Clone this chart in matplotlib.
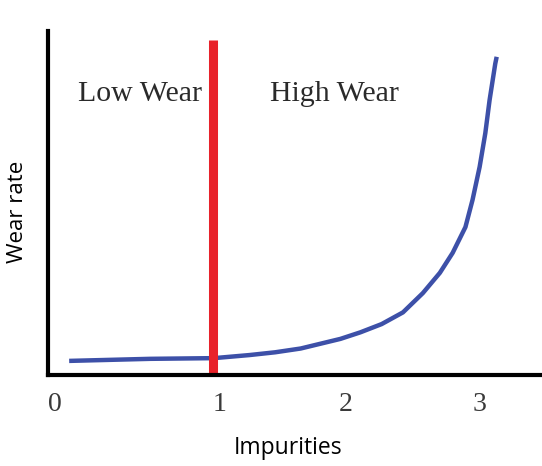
import numpy as np
import matplotlib.pyplot as plt


# curva de desgaste
imp = [0.10, 0.67, 1.12, 1.37, 1.55, 1.73, 2.01, 2.15, 2.30, 2.45, 2.59, 2.71,
       2.80, 2.89, 2.94, 2.99, 3.03, 3.06, 3.10, 3.11]
wear = [0.041, 0.047, 0.049, 0.058, 0.066, 0.077, 0.105, 0.124, 0.148, 0.182, 0.238, 0.297,
        0.355, 0.430, 0.509, 0.605, 0.703, 0.799, 0.905, 0.925]

limite = 1.116  # separacion baja / alta
tick_pos = [0, 1.16, 2.05, 2.99]
tick_lab = ['0', '1', '2', '3']

W, H = 542, 466
fig = plt.figure(figsize=(W/100, H/100), dpi=100)
ax = fig.add_axes([48/W, (H-375)/H, (540-48)/W, (375-31)/H])

ax.plot(imp, wear, color='#3d50a8', lw=3.2, solid_capstyle='butt',
        solid_joinstyle='round')
ax.plot([limite, limite], [0.006, 0.974], color='#e8222a', lw=6.5, solid_capstyle='butt')

ax.set_xlim(-0.049, 3.415)
ax.set_ylim(0, 1)

ax.spines['top'].set_visible(False)
ax.spines['right'].set_visible(False)
ax.spines['left'].set_linewidth(3)
ax.spines['bottom'].set_linewidth(3)

ax.set_yticks([])
ax.set_xticks(tick_pos)
ax.set_xticklabels(tick_lab, family='Liberation Serif', fontsize=20, color='#3a3a3a')
ax.tick_params(axis='x', length=0, pad=12)

ax.text(0.6, 0.797, 'Low Wear', family='Liberation Serif', fontsize=21.5,
        ha='center', va='baseline', color='#2a2a2a')
ax.text(1.97, 0.797, 'High Wear', family='Liberation Serif', fontsize=21.5,
        ha='center', va='baseline', color='#2a2a2a')

fig.text(18/W, 1-212/H, 'Wear rate', family='Open Sans', fontsize=16,
         rotation=90, ha='center', va='center')
fig.text(288/W, 1-448/H, 'Impurities', family='Open Sans', fontsize=16.5,
         ha='center', va='center')

fig.savefig('out.png', dpi=100)
